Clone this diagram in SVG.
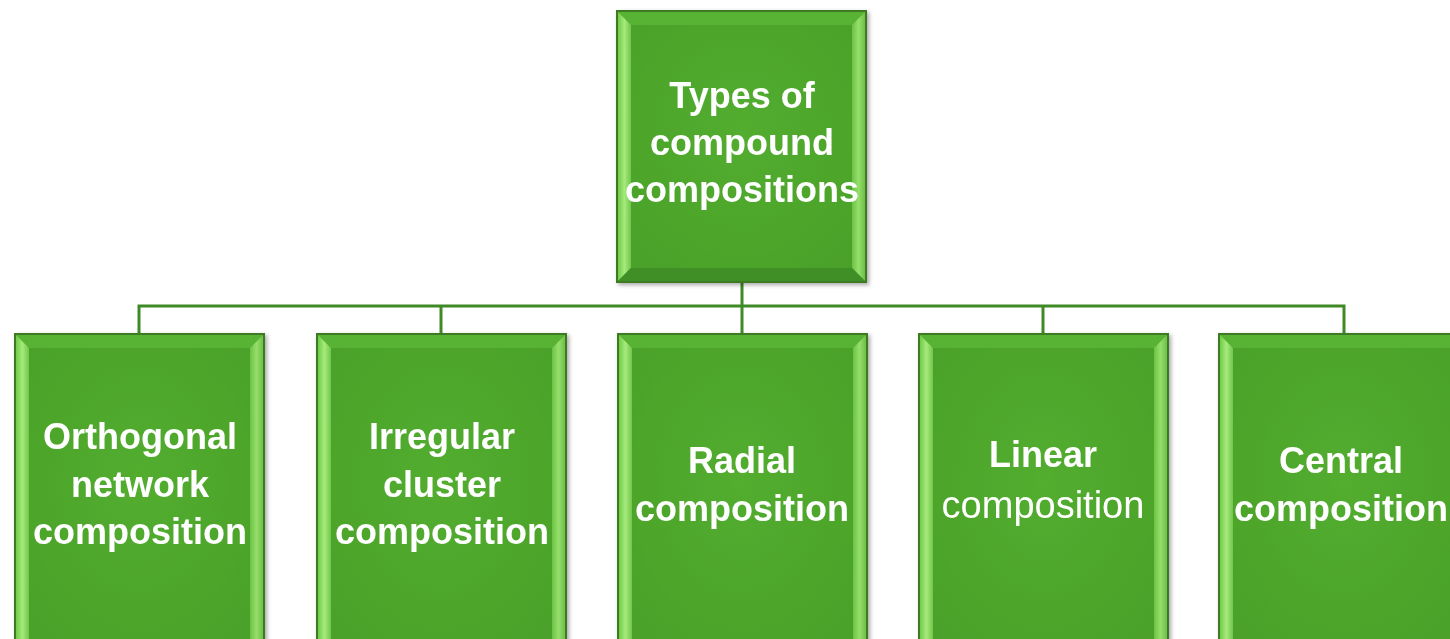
<svg xmlns="http://www.w3.org/2000/svg" width="1450" height="639" viewBox="0 0 1450 639">
<style>
.face{fill:url(#faceG);stroke:#3c7a22;stroke-width:2}
.bt{fill:#58b335}
.bl{fill:url(#leftG)}
.br{fill:url(#rightG)}
.bb{fill:#3f8e25}
.t{font-family:"Liberation Sans",Arial,sans-serif;font-size:36px;font-weight:bold;fill:#ffffff;text-anchor:middle}
.tr{font-weight:normal}
.conn{fill:none;stroke:#3f8a27;stroke-width:3}
</style>
<defs>
<radialGradient id="faceG" cx="0.5" cy="0.45" r="0.7">
<stop offset="0" stop-color="#52ad2e"/>
<stop offset="1" stop-color="#4aa02a"/>
</radialGradient>
<linearGradient id="leftG" x1="0" y1="0" x2="1" y2="0">
<stop offset="0" stop-color="#6fcc48"/>
<stop offset="0.5" stop-color="#a6ea7c"/>
<stop offset="1" stop-color="#70c64a"/>
</linearGradient>
<linearGradient id="rightG" x1="0" y1="0" x2="1" y2="0">
<stop offset="0" stop-color="#6ac444"/>
<stop offset="0.5" stop-color="#96de6c"/>
<stop offset="1" stop-color="#6cc046"/>
</linearGradient>
<filter id="sh" x="-10%" y="-10%" width="130%" height="130%">
<feDropShadow dx="2" dy="2" stdDeviation="2" flood-color="#000" flood-opacity="0.35"/>
</filter>
</defs>
<rect width="1450" height="639" fill="#ffffff"/>
<g id="connectors">
<path class="conn" d="M742 282V334"/>
<path class="conn" d="M139 334V306H1344V334"/>
<path class="conn" d="M441 306V334"/>
<path class="conn" d="M1043 306V334"/>
</g>
<g id="root" filter="url(#sh)">
<rect class="face" x="617" y="11" width="249" height="271"/>
<polygon class="bt" points="618,12 865,12 852,25 631,25"/>
<polygon class="bl" points="618,12 631,25 631,268 618,281"/>
<polygon class="br" points="865,12 865,281 852,268 852,25"/>
<polygon class="bb" points="618,281 631,268 852,268 865,281"/>
<text class="t" x="742" y="108">Types of</text>
<text class="t" x="742" y="155">compound</text>
<text class="t" x="742" y="202">compositions</text>
</g>
<g id="n1" filter="url(#sh)">
<rect class="face" x="15" y="334" width="249" height="330"/>
<polygon class="bt" points="16,335 263,335 250,348 29,348"/>
<polygon class="bl" points="16,335 29,348 29,650 16,663"/>
<polygon class="br" points="263,335 263,663 250,650 250,348"/>
<text class="t" x="140" y="449">Orthogonal</text>
<text class="t" x="140" y="497">network</text>
<text class="t" x="140" y="544">composition</text>
</g>
<g id="n2" filter="url(#sh)">
<rect class="face" x="317" y="334" width="249" height="330"/>
<polygon class="bt" points="318,335 565,335 552,348 331,348"/>
<polygon class="bl" points="318,335 331,348 331,650 318,663"/>
<polygon class="br" points="565,335 565,663 552,650 552,348"/>
<text class="t" x="442" y="449">Irregular</text>
<text class="t" x="442" y="497">cluster</text>
<text class="t" x="442" y="544">composition</text>
</g>
<g id="n3" filter="url(#sh)">
<rect class="face" x="618" y="334" width="249" height="330"/>
<polygon class="bt" points="619,335 866,335 853,348 632,348"/>
<polygon class="bl" points="619,335 632,348 632,650 619,663"/>
<polygon class="br" points="866,335 866,663 853,650 853,348"/>
<text class="t" x="742" y="473">Radial</text>
<text class="t" x="742" y="521">composition</text>
</g>
<g id="n4" filter="url(#sh)">
<rect class="face" x="919" y="334" width="249" height="330"/>
<polygon class="bt" points="920,335 1167,335 1154,348 933,348"/>
<polygon class="bl" points="920,335 933,348 933,650 920,663"/>
<polygon class="br" points="1167,335 1167,663 1154,650 1154,348"/>
<text class="t" x="1043" y="467">Linear</text>
<text class="t tr" x="1043" y="518" style="font-size:38px">composition</text>
</g>
<g id="n5" filter="url(#sh)">
<rect class="face" x="1219" y="334" width="249" height="330"/>
<polygon class="bt" points="1220,335 1467,335 1454,348 1233,348"/>
<polygon class="bl" points="1220,335 1233,348 1233,650 1220,663"/>
<text class="t" x="1341" y="473">Central</text>
<text class="t" x="1341" y="521">composition</text>
</g>
</svg>
